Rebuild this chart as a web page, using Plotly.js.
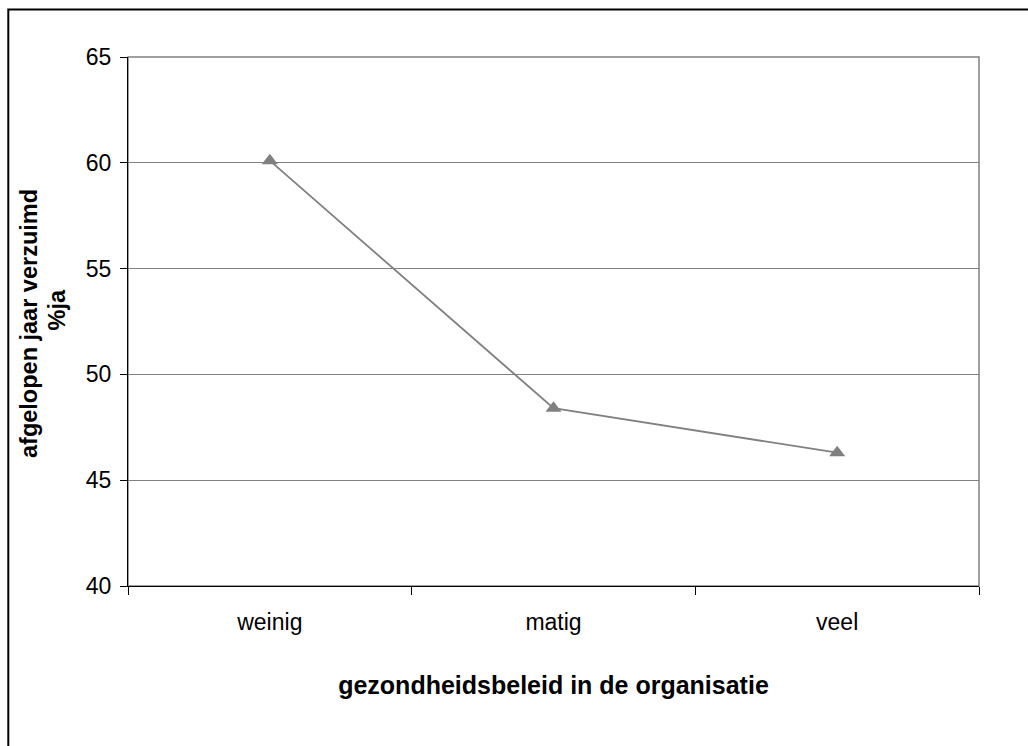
<!DOCTYPE html>
<html>
<head>
<meta charset="utf-8">
<script src="https://cdn.plot.ly/plotly-3.0.1.min.js"></script>
<style>
  html, body { margin: 0; padding: 0; background: #ffffff; }
  #chart { width: 1028px; height: 746px; }
</style>
</head>
<body>
<div id="chart"></div>
<script>
// Percentage reporting absence last year, by level of health policy
const categories = ['weinig', 'matig', 'veel'];
const percentYes = [60.1, 48.4, 46.3];
const yTicks = [40, 45, 50, 55, 60, 65];

const xTitle = 'gezondheidsbeleid in de organisatie';
const yTitleLine1 = 'afgelopen jaar verzuimd';
const yTitleLine2 = '%ja';

const FONT = 'Liberation Sans, Arial, sans-serif';
const GREY = '#808080';

const trace = {
  type: 'scatter',
  mode: 'lines+markers',
  x: categories,
  y: percentYes,
  line: { color: GREY, width: 1.8 },
  marker: { symbol: 'triangle-up', size: 14, color: GREY },
  hoverinfo: 'x+y'
};

const layout = {
  width: 1028,
  height: 746,
  margin: { l: 128, r: 49, t: 57, b: 160 },
  paper_bgcolor: '#ffffff',
  plot_bgcolor: '#ffffff',
  showlegend: false,
  font: { family: FONT, color: '#000000', size: 23 },
  xaxis: {
    type: 'category',
    range: [-0.5, 2.5],
    showline: true,
    linecolor: '#000000',
    linewidth: 1,
    ticks: 'outside',
    tickson: 'boundaries',
    ticklen: 8,
    tickcolor: '#000000',
    ticklabelstandoff: 15,
    showgrid: false,
    zeroline: false,
    tickfont: { family: FONT, size: 23, color: '#000000' },
    title: {
      text: xTitle,
      font: { family: FONT, size: 25, color: '#000000', weight: 'bold' },
      standoff: 42
    }
  },
  yaxis: {
    range: [40, 65],
    tickvals: yTicks,
    ticktext: yTicks.map(String),
    showline: true,
    linecolor: '#000000',
    linewidth: 1,
    ticks: 'outside',
    ticklen: 7,
    tickcolor: '#000000',
    ticklabelstandoff: 4,
    showgrid: true,
    gridcolor: GREY,
    gridwidth: 1,
    zeroline: false,
    tickfont: { family: FONT, size: 23, color: '#000000' }
  },
  annotations: [
    {
      text: yTitleLine1,
      xref: 'paper', yref: 'paper',
      x: (29 - 128) / 851, y: (586 - 324) / 529,
      xanchor: 'center', yanchor: 'middle',
      textangle: -90, showarrow: false,
      font: { family: FONT, size: 23.5, color: '#000000', weight: 'bold' }
    },
    {
      text: yTitleLine2,
      xref: 'paper', yref: 'paper',
      x: (56.5 - 128) / 851, y: (586 - 310) / 529,
      xanchor: 'center', yanchor: 'middle',
      textangle: -90, showarrow: false,
      font: { family: FONT, size: 23.5, color: '#000000', weight: 'bold' }
    }
  ],
  shapes: [
    // grey frame around the plotting area (top and right edges visible)
    {
      type: 'rect', xref: 'paper', yref: 'paper',
      x0: 0, x1: 1, y0: 0, y1: 1,
      line: { color: GREY, width: 1.5 },
      layer: 'below'
    },
    // outer chart border
    {
      type: 'rect', xref: 'paper', yref: 'paper',
      x0: (8.3 - 128) / 851, x1: 1.2,
      y0: -0.5, y1: 1 + (57 - 9.5) / 529,
      line: { color: '#000000', width: 2 },
      layer: 'below'
    }
  ]
};

Plotly.newPlot('chart', [trace], layout, { displayModeBar: false, staticPlot: true });
</script>
</body>
</html>
